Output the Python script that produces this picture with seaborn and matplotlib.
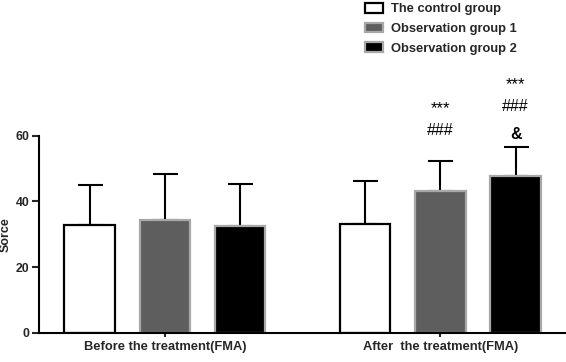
import matplotlib
matplotlib.use('Agg')
import matplotlib.pyplot as plt
import numpy as np
import pandas as pd
import seaborn as sns
from matplotlib.patches import Patch

# values
periods = ['Before the treatment(FMA)', 'After  the treatment(FMA)']
groups = ['The control group', 'Observation group 1', 'Observation group 2']
means_before = [32.8, 34.3, 32.4]
means_after = [33.0, 43.2, 47.8]
sd_before = [12.1, 14.0, 12.9]
sd_after = [13.3, 9.1, 8.7]
# significance marks for the after-treatment bars, stacked bottom -> top
marks_after = {'Observation group 1': ['###', '***'],
               'Observation group 2': ['&', '###', '***']}

face = {'The control group': 'white', 'Observation group 1': '#5e5e5e', 'Observation group 2': 'black'}
edge = {'The control group': 'black', 'Observation group 1': '#a8a8a8', 'Observation group 2': '#a8a8a8'}

rows = []
for i, g in enumerate(groups):
    rows.append({'period': periods[0], 'group': g, 'score': means_before[i], 'sd': sd_before[i]})
    rows.append({'period': periods[1], 'group': g, 'score': means_after[i], 'sd': sd_after[i]})
df = pd.DataFrame(rows)

sns.set_style('white')
plt.rcParams['font.family'] = ['Liberation Sans', 'DejaVu Sans']

fig = plt.figure(figsize=(5.66, 3.62), dpi=100)
ax = fig.add_axes([0.0694, 0.081, 0.9306, 0.544])

sns.barplot(data=df, x='period', y='score', hue='group', order=periods, hue_order=groups,
            palette=face, errorbar=None, width=0.82, gap=0.33, ax=ax, legend=False, zorder=2)

# colour edges and add one-sided SD whiskers at the bar centres
for cont, g in zip(ax.containers, groups):
    for bar, p in zip(cont, periods):
        bar.set_edgecolor(edge[g])
        bar.set_linewidth(1.6)
        row = df[(df.period == p) & (df.group == g)].iloc[0]
        xc = bar.get_x() + bar.get_width() / 2
        top = bar.get_height()
        ax.errorbar(xc, top, yerr=[[0], [row.sd]], fmt='none', ecolor='black',
                    elinewidth=1.5, capsize=9, capthick=1.5, zorder=1)
        if p == periods[1] and g in marks_after:
            base = 61.5 if g == 'Observation group 1' else 60.5
            for k, m in enumerate(marks_after[g]):
                if m == '***':
                    ax.text(xc, base + 8.5 * k - 1.8, m, ha='center', va='center', fontsize=12,
                            clip_on=False, color='black')
                else:
                    ax.text(xc, base + 8.5 * k, m, ha='center', va='center', fontsize=11.5,
                            fontweight='bold' if m == '&' else 'normal',
                            clip_on=False, color='black')

ax.set_ylim(0, 60)
ax.set_xlim(-0.456, 1.456)
ax.set_yticks([0, 20, 40, 60])
ax.set_xlabel('')
ax.set_ylabel('Sorce', fontsize=9, fontweight='bold', labelpad=3)
for lab in ax.get_xticklabels():
    lab.set_fontweight('bold')
    lab.set_fontsize(9.3)
for lab in ax.get_yticklabels():
    lab.set_fontweight('bold')
    lab.set_fontsize(8.8)
sns.despine(ax=ax)
for s in ['left', 'bottom']:
    ax.spines[s].set_linewidth(1.5)
    ax.spines[s].set_color('black')
ax.tick_params(axis='y', which='major', length=5, width=1.5, direction='out', left=True, pad=2)
ax.tick_params(axis='x', which='major', length=3, width=1.5, direction='out', bottom=True, pad=3)

handles = [Patch(facecolor=face[g], edgecolor=edge[g], linewidth=1.6) for g in groups]
leg = fig.legend(handles, groups, loc='upper left', bbox_to_anchor=(0.6245, 1.024),
                 frameon=False, prop={'weight': 'bold', 'size': 9.3},
                 handlelength=1.4, handleheight=0.8, handletextpad=0.6, labelspacing=0.56)

fig.savefig('out.png', dpi=100)
